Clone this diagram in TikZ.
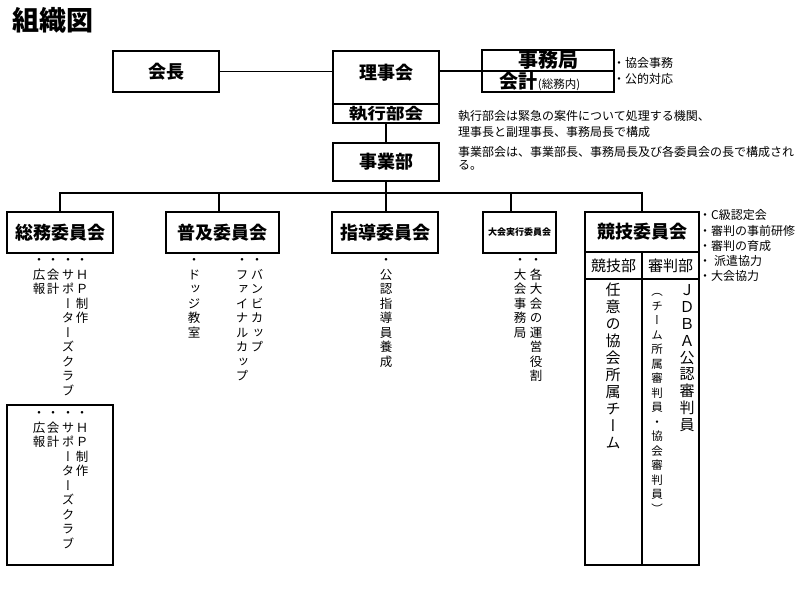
\documentclass[tikz,border=0pt]{standalone}
\usepackage{fontspec}
\usepackage{graphicx}
\setmainfont{Noto Sans CJK JP}
\newfontfamily\vjp[RawFeature=+vert]{Noto Sans CJK JP}
\newcommand\vs{\rule{0pt}{.88em}}
\tikzset{
  box/.style={draw, line width=1.9pt, inner sep=0pt, font=\bfseries\fontsize{18}{18}\selectfont},
  conn/.style={line width=1.9pt},
  divl/.style={line width=1.9pt},
  thindiv/.style={line width=1.2pt},
  lbl/.style={inner sep=0pt},
  note/.style={inner sep=0pt, anchor=west, font=\fontsize{12}{14}\selectfont},
  vcol/.style={anchor=north, inner sep=0pt, align=center, font=\vjp\fontsize{12.5}{14.5}\selectfont},
}
\begin{document}
\begin{tikzpicture}[x=1pt,y=-1pt]
\useasboundingbox (0,0) rectangle (810,601);
% title
\node[lbl, anchor=west, font=\bfseries\fontsize{27}{27}\selectfont] (title) at (12,20) {組織図};
% top boxes
\node[box, minimum width=106, minimum height=41] (kaicho) at (166,71.5) {会長};
\node[box, minimum width=106, minimum height=72] (riji) at (386,87) {};
\node[lbl, font=\bfseries\fontsize{18}{18}\selectfont] (rijit) at (386,73) {理事会};
\draw[thindiv] (333,104) -- (439,104);
\node[lbl, font=\bfseries\fontsize{15.5}{16}\selectfont] (shikko) at (386,113.5) {\scalebox{1.2}[1]{執行部会}};
\node[box, minimum width=132, minimum height=42] (jimu) at (548,71) {};
\draw[thindiv] (482,71) -- (614,71);
\node[lbl, font=\bfseries\fontsize{20}{20}\selectfont] (jimut) at (548,60) {事務局};
\node[lbl] (kaikei) at (540,81.5) {{\bfseries\fontsize{19}{19}\selectfont 会計}{\fontsize{11.5}{12}\selectfont (総務内)}};
\node[box, minimum width=106, minimum height=38] (jigyo) at (386,162) {事業部};
% notes
\node[note] (n1) at (613,63) {・協会事務};
\node[note] (n2) at (613,79) {・公的対応};
\node[note] (n3) at (458,116) {執行部会は緊急の案件について処理する機関、};
\node[note] (n4) at (458,132) {理事長と副理事長、事務局長で構成};
\node[note] (n5) at (458,152) {事業部会は、事業部長、事務局長及び各委員会の長で構成され};
\node[note] (n6) at (458,165) {る。};
% committees
\node[box, minimum width=106, minimum height=41] (soumu) at (60,232.5) {総務委員会};
\node[box, minimum width=113, minimum height=41] (fukyu) at (222.5,232.5) {普及委員会};
\node[box, minimum width=106, minimum height=41] (shido) at (385,232.5) {指導委員会};
\node[box, minimum width=73, minimum height=41, font=\bfseries\fontsize{9}{9}\selectfont] (taikai) at (519.5,232.5) {大会実行委員会};
\node[box, minimum width=114, minimum height=353] (kyogi) at (642,388.5) {};
\node[lbl, font=\bfseries\fontsize{18}{18}\selectfont] (kyogit) at (642,232) {競技委員会};
\draw[divl] (585,252) -- (699,252);
\draw[divl] (585,279) -- (699,279);
\draw[divl] (642,252) -- (642,565);
\node[lbl, font=\fontsize{15}{15}\selectfont] (kyogibu) at (613.5,266) {競技部};
\node[lbl, font=\fontsize{15}{15}\selectfont] (shinpanbu) at (670.5,266) {審判部};
\node[box, minimum width=106, minimum height=160] (soumu2) at (60,485) {};
% connectors
\coordinate (bus) at (386,193);
\draw[conn] (kaicho.east) -- (kaicho.east -| riji.west);
\draw[conn] (riji.east |- jimu.west) -- (jimu.west);
\draw[conn] (riji.south) -- (jigyo.north);
\draw[conn] (jigyo.south) -- (bus);
\draw[conn] (soumu.north) |- (bus) -| (kyogi.north);
\draw[conn] ([xshift=-3.5]fukyu.north) -- ([xshift=-3.5]fukyu.north |- bus);
\draw[conn] ([xshift=1]shido.north) -- ([xshift=1]shido.north |- bus);
\draw[conn] ([xshift=-8.5]taikai.north) -- ([xshift=-8.5]taikai.north |- bus);
% right list
\node[note] (k1) at (699,215) {・C級認定会};
\node[note] (k2) at (699,230.5) {・審判の事前研修};
\node[note] (k3) at (699,246) {・審判の育成};
\node[note] (k4) at (699,261) {・\hspace{3pt}派遣協力};
\node[note] (k5) at (699,276) {・大会協力};
% vertical texts: soumu
\node[vcol] (s1) at (82,253.75) {\vs{}・\\Ｈ\\Ｐ\\制\\作};
\node[vcol] (s2) at (68,253.75) {\vs{}・\\サ\\ポ\\ー\\タ\\ー\\ズ\\ク\\ラ\\ブ};
\node[vcol] (s3) at (53,253.75) {\vs{}・\\会\\計};
\node[vcol] (s4) at (39,253.75) {\vs{}・\\広\\報};
% fukyu
\node[vcol] (f1) at (257,253.75) {\vs{}・\\バ\\ン\\ビ\\カ\\ッ\\プ};
\node[vcol] (f2) at (242,253.75) {\vs{}・\\フ\\ァ\\イ\\ナ\\ル\\カ\\ッ\\プ};
\node[vcol] (f3) at (194,253.75) {\vs{}・\\ド\\ッ\\ジ\\教\\室};
% shido
\node[vcol] (d1) at (386,253.75) {\vs{}・\\公\\認\\指\\導\\員\\養\\成};
% taikai
\node[vcol] (t1) at (536,253.75) {\vs{}・\\各\\大\\会\\の\\運\\営\\役\\割};
\node[vcol] (t2) at (520,253.75) {\vs{}・\\大\\会\\事\\務\\局};
% soumu2
\node[vcol] (u1) at (82,406.75) {\vs{}・\\Ｈ\\Ｐ\\制\\作};
\node[vcol] (u2) at (68,406.75) {\vs{}・\\サ\\ポ\\ー\\タ\\ー\\ズ\\ク\\ラ\\ブ};
\node[vcol] (u3) at (53,406.75) {\vs{}・\\会\\計};
\node[vcol] (u4) at (39,406.75) {\vs{}・\\広\\報};
% kyogi columns
\node[vcol, font=\vjp\fontsize{15}{17}\selectfont] (g1) at (613,282.5) {\vs{}任\\意\\の\\協\\会\\所\\属\\チ\\ー\\ム};
\node[vcol, font=\vjp\fontsize{15}{16.8}\selectfont] (g2) at (687,282.5) {\vs{}Ｊ\\Ｄ\\Ｂ\\Ａ\\公\\認\\審\\判\\員};
\node[vcol, font=\vjp\fontsize{11.5}{14.5}\selectfont] (g3) at (657,285.25) {\vs{}（\\チ\\ー\\ム\\所\\属\\審\\判\\員\\・\\協\\会\\審\\判\\員\\）};
\end{tikzpicture}
\end{document}
